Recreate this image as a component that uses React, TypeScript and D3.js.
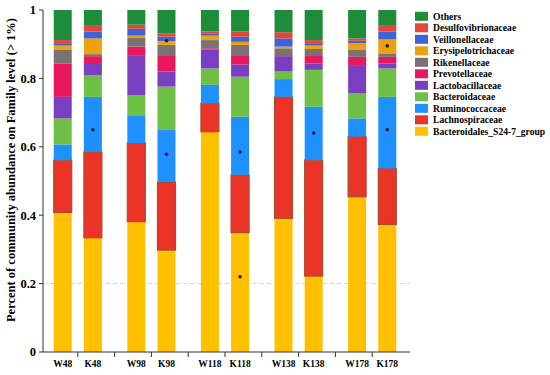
import React from "react";
import * as d3 from "d3";

// samples, grouped by week; W = wild type, K = knockout
const groups = ["48", "98", "118", "138", "178"];
const kinds = ["W", "K"];
const samples = ["W48", "K48", "W98", "K98", "W118", "K118", "W138", "K138", "W178", "K178"];

// families, bottom of the stack first
const families = [
  "Bacteroidales_S24-7_group",
  "Lachnospiraceae",
  "Ruminococcaceae",
  "Bacteroidaceae",
  "Lactobacillaceae",
  "Prevotellaceae",
  "Rikenellaceae",
  "Erysipelotrichaceae",
  "Veillonellaceae",
  "Desulfovibrionaceae",
  "Others",
];

const s24_7 = [0.408, 0.334, 0.381, 0.298, 0.644, 0.349, 0.391, 0.222, 0.454, 0.373];
const lachno = [0.153, 0.251, 0.23, 0.199, 0.083, 0.169, 0.355, 0.339, 0.176, 0.164];
const rumino = [0.046, 0.161, 0.079, 0.152, 0.054, 0.17, 0.052, 0.156, 0.053, 0.209];
const bacteroid = [0.076, 0.064, 0.061, 0.127, 0.048, 0.117, 0.022, 0.108, 0.073, 0.083];
const lacto = [0.063, 0.035, 0.117, 0.044, 0.055, 0.036, 0.045, 0.019, 0.083, 0.015];
const prevot = [0.098, 0.02, 0.025, 0.048, 0.004, 0.027, 0.003, 0.024, 0.024, 0.019];
const riken = [0.039, 0.006, 0.025, 0.03, 0.024, 0.03, 0.02, 0.018, 0.02, 0.01];
const erysip = [0.013, 0.046, 0.007, 0.011, 0.013, 0.009, 0.005, 0.01, 0.02, 0.041];
const veillon = [0.007, 0.02, 0.02, 0.013, 0.007, 0.015, 0.024, 0.007, 0.007, 0.023];
const desulfo = [0.009, 0.019, 0.012, 0.01, 0.005, 0.015, 0.018, 0.009, 0.007, 0.019];
const others = [0.088, 0.044, 0.043, 0.068, 0.063, 0.063, 0.065, 0.088, 0.083, 0.044];

const series = [s24_7, lachno, rumino, bacteroid, lacto, prevot, riken, erysip, veillon, desulfo, others];

const colors = [
  "#ffc000", "#ec3328", "#1e90ff", "#6dbf45", "#7a3fc0", "#e8185e",
  "#7b7171", "#eba20c", "#3f63d6", "#e0463a", "#1e8c3a",
];

// black dots drawn on some bars
const markSamples = ["K48", "K98", "K98", "K118", "K118", "K138", "K178", "K178"];
const markValues = [0.65, 0.91, 0.578, 0.585, 0.22, 0.64, 0.895, 0.65];

const yTicks = [0, 0.2, 0.4, 0.6, 0.8, 1];

const font = "'Liberation Serif', 'Times New Roman', serif";

export default function App() {
  const left = 43, right = 410, top = 10, bottom = 352;
  const barW = 18;

  const y = d3.scaleLinear().domain([0, 1]).range([bottom, top]);
  const xg = d3.scaleBand().domain(groups).range([41, 409]);
  const xi = d3.scalePoint().domain(kinds).range([0, xg.bandwidth()]).padding(0.72);
  const cx = (s: string) => (xg(s.slice(1)) as number) + (xi(s[0]) as number);

  const table = samples.map((s, i) => {
    const row: any = { sample: s };
    families.forEach((f, j) => (row[f] = series[j][i]));
    return row;
  });
  const stacked = d3.stack().keys(families)(table);

  const centers = samples.map(cx);
  const xTicks = centers.slice(1).map((c, i) => (c + centers[i]) / 2);

  return (
    <svg width={550} height={375} style={{ position: "absolute", left: 0, top: 0, background: "#fff" }}>
      <line x1={left} x2={right} y1={y(0.2)} y2={y(0.2)} stroke="#d0d0d0" strokeDasharray="4,3" />

      {stacked.map((layer, j) => (
        <g key={families[j]} fill={colors[j]}>
          {layer.map((d, i) => (
            <rect
              key={samples[i]}
              x={centers[i] - barW / 2}
              width={barW}
              y={y(d[1])}
              height={Math.max(0, y(d[0]) - y(d[1]))}
              stroke={families[j] === "Lachnospiraceae" ? "#a0522d" : "none"}
              strokeWidth={1.2}
            />
          ))}
        </g>
      ))}

      {markSamples.map((s, i) => (
        <circle key={i} cx={cx(s)} cy={y(markValues[i])} r={1.8} fill="#222" />
      ))}

      {/* y axis */}
      <line x1={left} x2={left} y1={top} y2={bottom} stroke="#333" strokeWidth={1} />
      {yTicks.map((t) => (
        <g key={t}>
          <line x1={left - 4} x2={left} y1={y(t)} y2={y(t)} stroke="#333" />
          <text x={left - 7} y={y(t)} dy="0.35em" textAnchor="end" fontFamily={font} fontWeight="bold" fontSize={12.5}>
            {d3.format("")(t)}
          </text>
        </g>
      ))}
      <text
        transform={`translate(11,170) rotate(-90)`}
        textAnchor="middle"
        dy="0.35em"
        fontFamily={font}
        fontWeight="bold"
        fontSize={12.5}
      >
        Percent of community abundance on Family level (&gt; 1%)
      </text>

      {/* x axis */}
      <line x1={left} x2={right} y1={bottom} y2={bottom} stroke="#333" />
      {xTicks.map((t, i) => (
        <line key={i} x1={t} x2={t} y1={bottom} y2={bottom + 5} stroke="#333" />
      ))}
      {samples.map((s, i) => (
        <text key={s} x={centers[i]} y={bottom + 15} textAnchor="middle" fontFamily={font} fontWeight="bold" fontSize={9.5}>
          {s}
        </text>
      ))}

      {/* legend, top of stack first */}
      {families
        .map((f, j) => ({ f, c: colors[j] }))
        .reverse()
        .map((d, k) => (
          <g key={d.f} transform={`translate(415,${16.3 + k * 11.5})`}>
            <rect x={0} y={-4.5} width={13} height={9} fill={d.c} />
            <text x={18} dy="0.35em" fontFamily={font} fontWeight="bold" fontSize={9.6}>
              {d.f}
            </text>
          </g>
        ))}
    </svg>
  );
}
